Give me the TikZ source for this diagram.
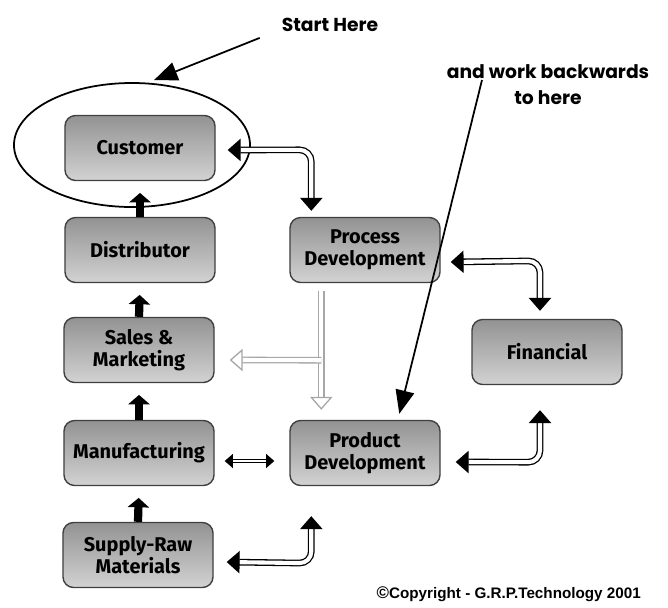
\documentclass[tikz,border=0pt]{standalone}
\usepackage{fontspec}
\setsansfont{Fira Sans}
\newfontfamily\notefont{Poppins}
\newfontfamily\copyfont{Liberation Sans}
\usetikzlibrary{arrows.meta,shapes.geometric,calc}

\tikzset{
  box/.style={rounded corners=9pt, minimum width=4.5cm, minimum height=1.95cm,
    draw=black!75, line width=1.2pt, top color=gray!85, bottom color=gray!35,
    align=center, font=\sffamily\bfseries\fontsize{17}{19}\selectfont},
  dbl/.style={double=white, double distance=3.5pt, line width=1.1pt, rounded corners=10pt},
  both/.style={{Triangle[length=11pt,width=19pt]}-{Triangle[length=11pt,width=19pt]}},
  uparrow/.style={line width=7pt, -{Triangle[length=8pt,width=18pt]}},
  note/.style={font=\notefont\bfseries\fontsize{16}{22}\selectfont, align=center}
}

\begin{document}
\begin{tikzpicture}[x=0.03cm,y=-0.03cm]
\useasboundingbox (0,0) rectangle (668,607);

%boxes
\node[box] (cust) at (140,148) {Customer};
\node[box] (dist) at (140,250) {Distributor};
\node[box] (sales) at (139,350) {Sales \&\\Marketing};
\node[box] (manu) at (139,453) {Manufacturing};
\node[box] (supply) at (138,555) {Supply-Raw\\Materials};
\node[box] (proc) at (365,250) {Process\\Development};
\node[box] (prod) at (365,453) {Product\\Development};
\node[box] (fin) at (547,352) {Financial};

%ring
\node[draw, ellipse, line width=1.5pt, minimum width=7.08cm, minimum height=3.72cm] (ring) at (132,145) {};

%chain
\draw[uparrow, shorten >=10pt] (dist.north) -- (cust.south);
\draw[uparrow, shorten >=10pt] (sales.north) -- (dist.south);
\draw[uparrow, shorten >=10pt] (manu.north) -- (sales.south);
\draw[uparrow, shorten >=10pt] (supply.north) -- (manu.south);

%links
\draw[dbl, both] ($(cust.east)+(12,2)$) -- ($(proc.north west)+(22,2)-(0,69)$) -- ($(proc.north west)+(22,-6)$);
\draw[dbl, both] ($(proc.east)+(10,12)$) -- ($(fin.north)+(-7,-58)$) -- ($(fin.north)+(-7,-8)$);
\draw[dbl, both] ($(fin.south)+(-7,25)$) -- ($(fin.south)+(-7,77)$) -- ($(prod.east)+(15,9)$);
\draw[dbl, both] ($(supply.east)+(13,7)$) -- ($(prod.south west)+(22,77)$) -- ($(prod.south west)+(22,30)$);
\draw[dbl, line width=0.8pt, double distance=2.5pt, {Triangle[length=7pt,width=12pt]}-{Triangle[length=7pt,width=12pt]}] ($(manu.east)+(10,8)$) -- ($(prod.west)+(-15,8)$);
\draw[dbl, draw=gray!70, -{Triangle[open,length=11pt,width=19pt]}] ($(proc.south west)+(32,8)$) -- ($(prod.north west)+(32,-10)$);
\draw[dbl, draw=gray!70, -{Triangle[open,length=11pt,width=19pt]}] ($(proc.south west)+(32,77)$) -- ($(sales.east)+(15,10)$);

%notes
\node[note] (start) at (330,25) {Start Here};
\node[note] (back) at (548,85) {and work backwards\\to here};
\coordinate (backtail) at (482,80);
\draw[line width=1.5pt, -{Triangle[length=20pt,width=16pt]}] ($(start.south west)+(-18,2)$) -- ($(ring.north)+(22,-2)$);
\draw[line width=1.5pt, -{Triangle[length=20pt,width=16pt]}] (backtail) -- ($(prod.north west)+(110,-6)$);

%copyright
\node[font=\copyfont\bfseries\fontsize{13}{15}\selectfont, anchor=east, inner sep=0pt] (copy) at (641,594) {{\Large ©}Copyright - G.R.P.Technology 2001};
\end{tikzpicture}
\end{document}
